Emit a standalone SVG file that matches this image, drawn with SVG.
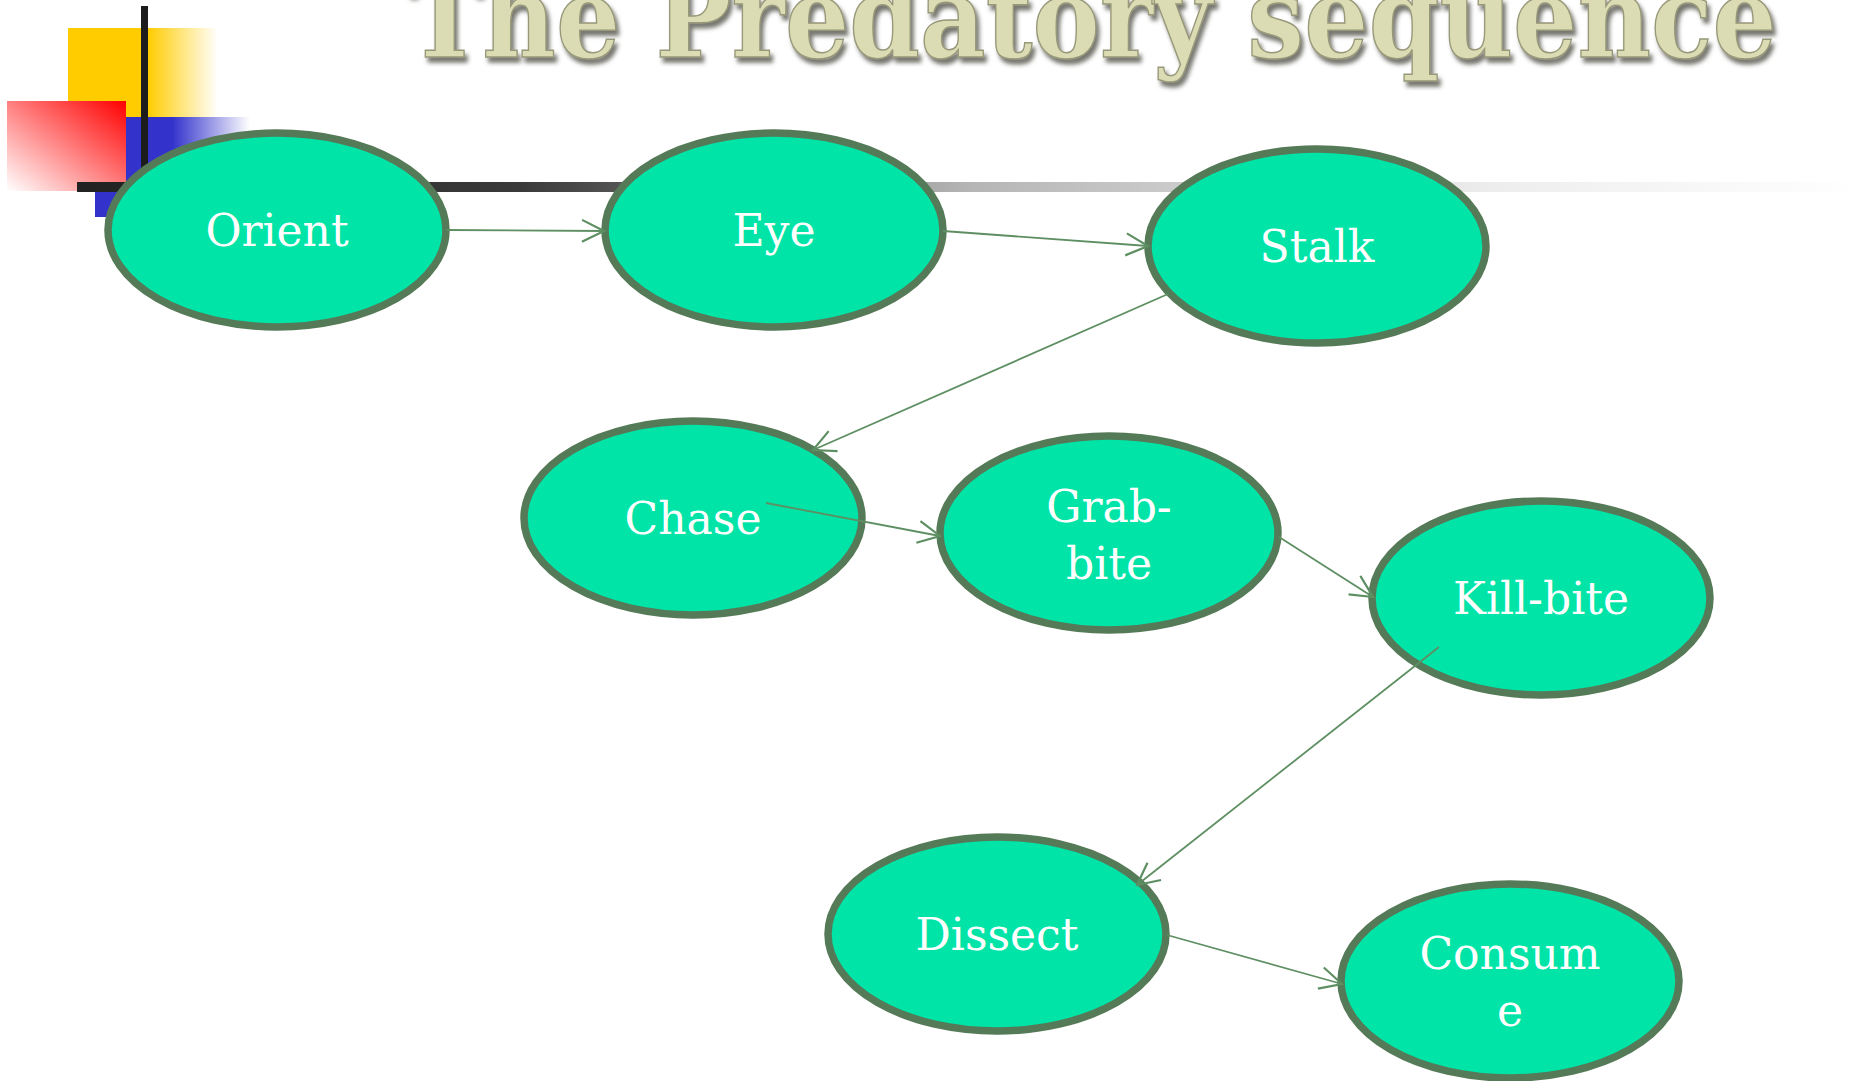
<svg xmlns="http://www.w3.org/2000/svg" width="1866" height="1081" viewBox="0 0 1866 1081">
<style>
.node ellipse{fill:#00e4a8;stroke:#557a57;stroke-width:7.5}
.node text{font-family:"DejaVu Serif",serif;font-size:44px;fill:#ffffff;text-anchor:middle}
.conn line{stroke:#5e8f62;stroke-width:1.8;fill:none;marker-end:url(#arr)}
.title{font-family:"DejaVu Serif",serif;font-size:114px;font-weight:bold}
</style>
<defs>
<marker id="arr" markerUnits="userSpaceOnUse" markerWidth="26" markerHeight="26" viewBox="0 0 26 26" refX="24" refY="13" orient="auto">
<path d="M2,2 L24,13 L2,24" fill="none" stroke="#5e8f62" stroke-width="2.2"/>
</marker>
<linearGradient id="gy" x1="0" y1="0" x2="1" y2="0">
<stop offset="0.53" stop-color="#ffcc00"/>
<stop offset="1" stop-color="#ffcc00" stop-opacity="0"/>
</linearGradient>
<linearGradient id="gb" x1="0" y1="0" x2="1" y2="0">
<stop offset="0.5" stop-color="#3333cc"/>
<stop offset="1" stop-color="#3333cc" stop-opacity="0"/>
</linearGradient>
<linearGradient id="gr" x1="1" y1="0" x2="0" y2="1">
<stop offset="0" stop-color="#ff0000"/>
<stop offset="1" stop-color="#ffffff"/>
</linearGradient>
<linearGradient id="gl" x1="0" y1="0" x2="1" y2="0">
<stop offset="0" stop-color="#222222"/>
<stop offset="0.25" stop-color="#3a3a3a"/>
<stop offset="0.5" stop-color="#b5b5b5"/>
<stop offset="0.8" stop-color="#eeeeee"/>
<stop offset="1" stop-color="#ffffff"/>
</linearGradient>
<filter id="sh" x="-5%" y="-30%" width="110%" height="170%">
<feDropShadow dx="3" dy="5" stdDeviation="2" flood-color="#4a4a40" flood-opacity="0.75"/>
</filter>
</defs>
<rect width="1866" height="1081" fill="#ffffff"/>
<g id="decor">
<rect x="68" y="28" width="150" height="89" fill="url(#gy)"/>
<rect x="95" y="117" width="155" height="100" fill="url(#gb)"/>
<rect x="7" y="101" width="119" height="90" fill="url(#gr)"/>
<rect x="141" y="6" width="7" height="186" fill="#1c1c1c"/>
<rect x="77" y="182" width="1785" height="10" fill="url(#gl)"/>
</g>
<g id="title">
<text class="title" x="407" y="57" fill="#dcdcb4" stroke="#98987a" stroke-width="1.5" filter="url(#sh)" textLength="1370" lengthAdjust="spacingAndGlyphs">The Predatory sequence</text>
</g>
<g id="node-orient" class="node"><ellipse cx="277" cy="230" rx="169" ry="97"/><text x="277" y="246">Orient</text></g>
<g id="node-eye" class="node"><ellipse cx="774" cy="230" rx="169" ry="97"/><text x="774" y="246">Eye</text></g>
<g id="node-stalk" class="node"><ellipse cx="1317" cy="246" rx="169" ry="97"/><text x="1317" y="262">Stalk</text></g>
<g id="node-chase" class="node"><ellipse cx="693" cy="518" rx="169" ry="97"/><text x="693" y="534">Chase</text></g>
<g id="node-grab-bite" class="node"><ellipse cx="1109" cy="533" rx="169" ry="97"/><text x="1109" y="522">Grab-</text><text x="1109" y="579">bite</text></g>
<g id="node-kill-bite" class="node"><ellipse cx="1541" cy="598" rx="169" ry="97"/><text x="1541" y="614">Kill-bite</text></g>
<g id="node-dissect" class="node"><ellipse cx="997" cy="934" rx="169" ry="97"/><text x="997" y="950">Dissect</text></g>
<g id="node-consume" class="node"><ellipse cx="1510" cy="981" rx="169" ry="97"/><text x="1510" y="969">Consum</text><text x="1510" y="1026">e</text></g>
<g id="connectors" class="conn">
<line x1="447" y1="230" x2="604" y2="231"/>
<line x1="943" y1="231" x2="1148" y2="246"/>
<line x1="1168" y1="294" x2="813" y2="450"/>
<line x1="766" y1="503" x2="940" y2="536"/>
<line x1="1279" y1="537" x2="1373" y2="597"/>
<line x1="1439" y1="647" x2="1137" y2="885"/>
<line x1="1167" y1="935" x2="1342" y2="984"/>
</g>
</svg>
